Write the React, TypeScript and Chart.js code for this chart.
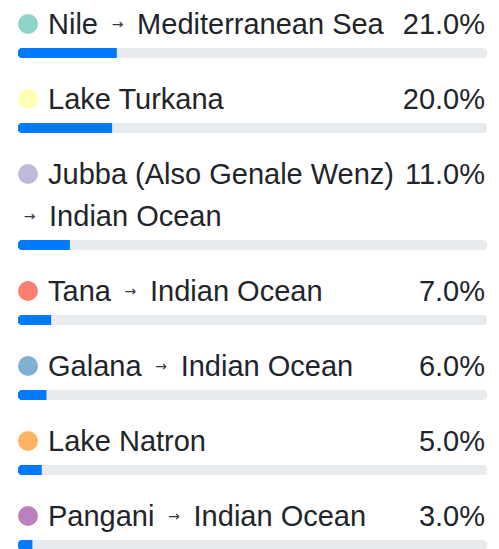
import React, { useEffect, useRef } from "react";
import { Chart, registerables } from "chart.js";

Chart.register(...registerables);

const sources = [
  "Nile",
  "Lake Turkana",
  "Jubba (Also Genale Wenz)",
  "Tana",
  "Galana",
  "Lake Natron",
  "Pangani",
];
const destinations = [
  "Mediterranean Sea",
  "",
  "Indian Ocean",
  "Indian Ocean",
  "Indian Ocean",
  "",
  "Indian Ocean",
];
const shares = [21, 20, 11, 7, 6, 5, 3];
const dotColors = [
  "#8dd3c7",
  "#ffffb3",
  "#bebada",
  "#fb8072",
  "#80b1d3",
  "#fdb462",
  "#bc80bd",
];
const scaleMax = 100;

const TRACK_W = 469;
const TRACK_H = 10;

function ProgressBar({ label, value }: { label: string; value: number }) {
  const ref = useRef<HTMLCanvasElement | null>(null);
  useEffect(() => {
    if (!ref.current) return;
    const chart = new Chart(ref.current, {
      type: "bar",
      data: {
        labels: [label],
        datasets: [
          {
            data: [value],
            backgroundColor: "#007bff",
            borderRadius: { topLeft: 5, bottomLeft: 5, topRight: 0, bottomRight: 0 },
            borderSkipped: false,
            grouped: false,
            barPercentage: 1,
            categoryPercentage: 1,
          } as any,
          {
            data: [scaleMax],
            backgroundColor: "#e9ecef",
            borderRadius: 5,
            borderSkipped: false,
            grouped: false,
            barPercentage: 1,
            categoryPercentage: 1,
          } as any,
        ],
      },
      options: {
        indexAxis: "y",
        animation: false,
        responsive: false,
        maintainAspectRatio: false,
        events: [],
        layout: { padding: 0 },
        plugins: { legend: { display: false }, tooltip: { enabled: false } },
        scales: {
          x: { display: false, min: 0, max: scaleMax },
          y: { display: false },
        },
      },
    });
    return () => chart.destroy();
  }, [label, value]);
  return (
    <div style={{ width: TRACK_W, height: TRACK_H, marginTop: 3 }}>
      <canvas ref={ref} width={TRACK_W} height={TRACK_H} style={{ display: "block" }} />
    </div>
  );
}

export default function App() {
  return (
    <div
      style={{
        paddingLeft: 18,
        paddingTop: 3,
        width: TRACK_W,
        fontFamily: '"Liberation Sans", Arial, sans-serif',
        fontSize: 29,
        lineHeight: "42px",
        color: "#212529",
      }}
    >
      <style>{"html,body{margin:0;overflow:hidden;}"}</style>
      {sources.map((src, i) => (
        <div key={src} style={{ marginBottom: 20 }}>
          <div style={{ display: "flex", alignItems: "flex-start", paddingRight: 2 }}>
            <div style={{ flex: 1 }}>
              <span
                style={{
                  display: "inline-block",
                  width: 20,
                  height: 20,
                  borderRadius: "50%",
                  background: dotColors[i],
                  marginRight: 10,
                  verticalAlign: "baseline",
                }}
              />
              {src}
              {destinations[i] ? (
                <>
                  {" "}
                  <span
                    style={{
                      display: "inline-block",
                      width: 23,
                      textAlign: "center",
                      fontFamily: '"DejaVu Sans", sans-serif',
                      fontSize: 14,
                      lineHeight: "14px",
                      verticalAlign: "middle",
                      position: "relative",
                      top: -2,
                      color: "#343a40",
                    }}
                  >
                    →
                  </span>{" "}
                  {destinations[i]}
                </>
              ) : null}
            </div>
            <div style={{ whiteSpace: "nowrap", paddingLeft: 4 }}>{shares[i].toFixed(1)}%</div>
          </div>
          <ProgressBar label={src} value={shares[i]} />
        </div>
      ))}
    </div>
  );
}
